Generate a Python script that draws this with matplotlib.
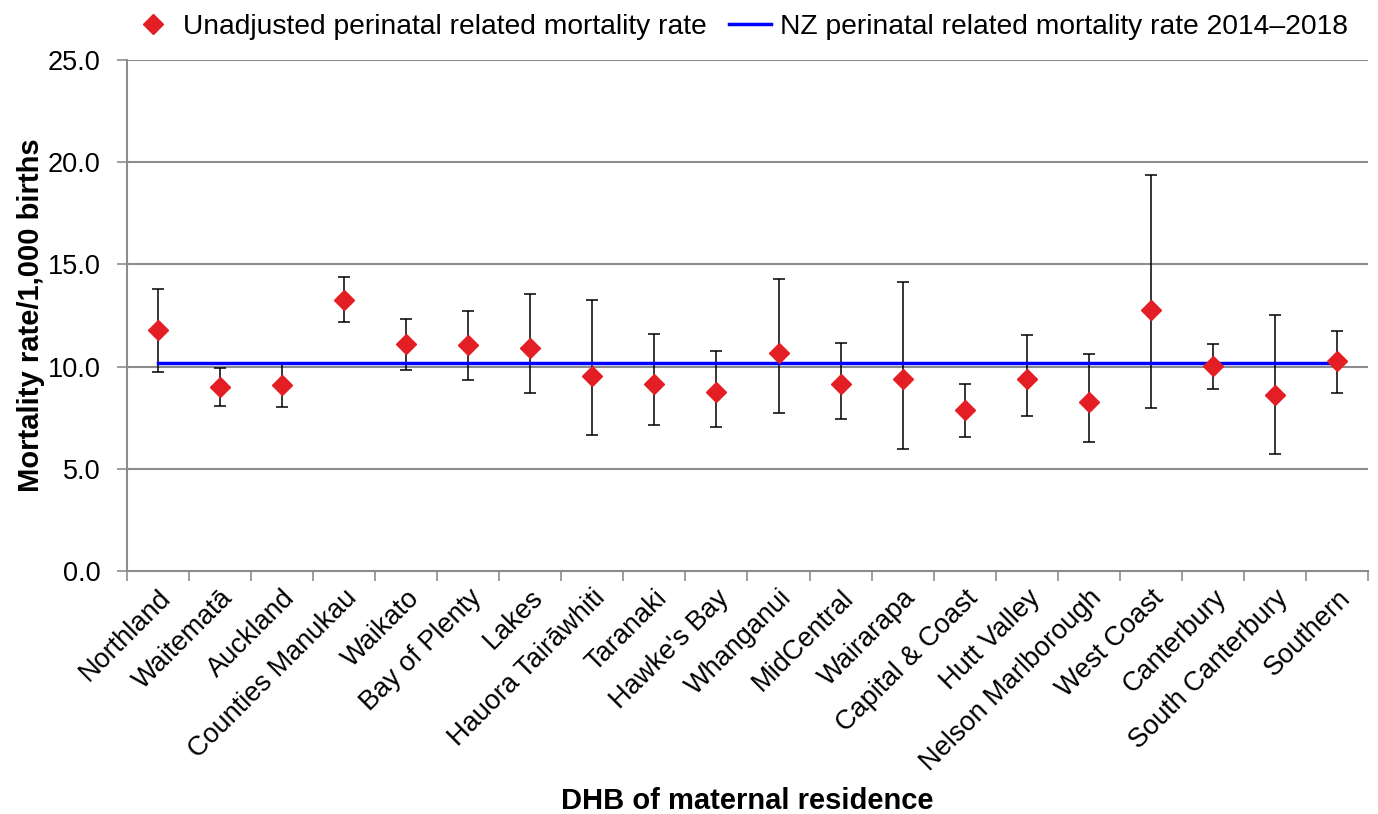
import matplotlib
matplotlib.use('Agg')
from matplotlib import pyplot as plt
import matplotlib.transforms as mtransforms
import numpy as np

plt.rcParams['font.family'] = ['Liberation Sans', 'DejaVu Sans']

dhbs = ['Northland', 'Waitematā', 'Auckland', 'Counties Manukau', 'Waikato',
        'Bay of Plenty', 'Lakes', 'Hauora Tairāwhiti', 'Taranaki', "Hawke's Bay",
        'Whanganui', 'MidCentral', 'Wairarapa', 'Capital & Coast', 'Hutt Valley',
        'Nelson Marlborough', 'West Coast', 'Canterbury', 'South Canterbury', 'Southern']
rate = [11.78, 8.99, 9.10, 13.28, 11.09, 11.04, 10.92, 9.54, 9.17, 8.77,
        10.65, 9.15, 9.41, 7.86, 9.40, 8.25, 12.78, 10.02, 8.63, 10.25]
upper = [13.79, 9.92, 10.12, 14.40, 12.34, 12.73, 13.53, 13.27, 11.60, 10.77,
         14.31, 11.16, 14.12, 9.17, 11.54, 10.62, 19.35, 11.11, 12.52, 11.75]
lower = [9.75, 8.05, 8.00, 12.17, 9.85, 9.35, 8.69, 6.65, 7.14, 7.07,
         7.75, 7.42, 5.95, 6.54, 7.58, 6.31, 7.99, 8.89, 5.74, 8.71]
nz_rate = 10.17

rate = np.array(rate)
yerr = [rate - np.array(lower), np.array(upper) - rate]
x = np.arange(len(dhbs))

fig = plt.figure(figsize=(13.78, 8.14), dpi=100)
ax = fig.add_axes([0.0922, 0.2985, 0.9005, 0.6278])

for y in [5, 10, 15, 20, 25]:
    ax.axhline(y, color='#8c8c8c', lw=1.5, zorder=0)

ax.errorbar(x, rate, yerr=yerr, fmt='none', ecolor='black', elinewidth=1.1,
            capsize=4.3, capthick=1.1, zorder=2)
ax.plot(x, [nz_rate] * len(x), color='#0000ff', lw=2.5, zorder=3,
        label='NZ perinatal related mortality rate 2014\u20132018')
ax.plot(x, rate, linestyle='none', marker='D', markersize=10.5, color='#e31e24',
        markeredgecolor='#e31e24', zorder=4, label='Unadjusted perinatal related mortality rate')

ax.set_xlim(-0.5, len(dhbs) - 0.5)
ax.set_ylim(0, 25)
ax.set_yticks([0, 5, 10, 15, 20, 25])
ax.set_yticklabels(['%.1f' % v for v in [0, 5, 10, 15, 20, 25]], fontsize=19.5)
ax.set_xticks(x)
ax.set_xticklabels(dhbs, rotation=45, ha='right', rotation_mode='anchor', fontsize=19.5)
shift = mtransforms.ScaledTranslation(-0.06, 0, fig.dpi_scale_trans)
for lab in ax.get_xticklabels():
    lab.set_transform(lab.get_transform() + shift)
ax.set_xticks(np.arange(len(dhbs) + 1) - 0.5, minor=True)
ax.tick_params(axis='x', which='major', length=0, pad=10)
ax.tick_params(axis='x', which='minor', length=7, color='#8c8c8c', width=1.2)
ax.tick_params(axis='y', length=7, color='#8c8c8c', width=1.2, pad=12)

for side in ['top', 'right']:
    ax.spines[side].set_visible(False)
for side in ['left', 'bottom']:
    ax.spines[side].set_color('#8c8c8c')
    ax.spines[side].set_linewidth(1.5)

ax.set_ylabel('Mortality rate/1,000 births', fontsize=21, fontweight='bold', labelpad=2)
ax.set_xlabel('DHB of maternal residence', fontsize=21, fontweight='bold')
ax.xaxis.set_label_coords(0.5, -0.422)

handles, labels = ax.get_legend_handles_labels()
fig.legend(handles[::-1], labels[::-1], loc='center', bbox_to_anchor=(0.537, 0.967), ncol=2,
           frameon=False, fontsize=20.3, handlelength=1.5, handletextpad=0.3, columnspacing=0.8)

fig.savefig('out.png', dpi=100)
